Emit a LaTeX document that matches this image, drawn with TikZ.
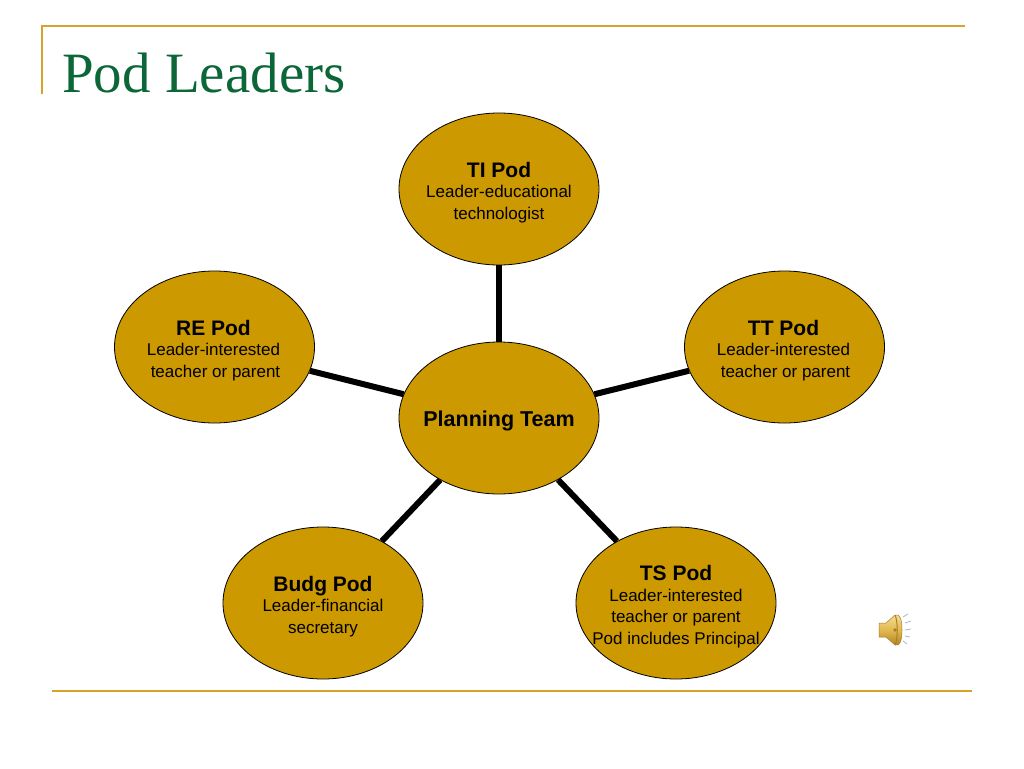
\documentclass[tikz,border=0pt]{standalone}
\usepackage{fontspec}
\usetikzlibrary{shapes.geometric}
\setmainfont{Liberation Sans}
\newfontfamily\titlefont{Liberation Serif}
\definecolor{podfill}{HTML}{CC9900}
\definecolor{rulegold}{HTML}{D6A32B}
\definecolor{titlegreen}{HTML}{0B6638}
\definecolor{spkgold}{HTML}{E2B84E}
\definecolor{spkdark}{HTML}{A97F22}
\definecolor{spklight}{HTML}{F5E2A0}
\definecolor{spkwave}{HTML}{A8AEB8}
\newcommand{\podhead}[1]{{\fontsize{21}{24}\selectfont\bfseries #1}}
\tikzset{
  pod/.style={ellipse,draw=black,line width=0.8pt,fill=podfill,minimum width=200pt,minimum height=152pt,inner sep=0pt},
  podtext/.style={align=center,inner sep=0pt,yshift=-3.5pt,font=\fontsize{17}{21.5}\selectfont,text=black},
  spoke/.style={draw=black,line width=6pt},
  rulegoldline/.style={draw=rulegold,line width=2.2pt},
  wave/.style={draw=spkwave,line width=0.7pt}
}
\begin{document}
\begin{tikzpicture}[x=1pt,y=-1pt]
\useasboundingbox (0,0) rectangle (1024,768);
\fill[white] (0,0) rectangle (1024,768);
\coordinate (ruleTL) at (42,26);
\coordinate (ruleTR) at (965,26);
\coordinate (ruleLB) at (42,94);
\coordinate (ruleBL) at (52,691);
\coordinate (ruleBR) at (972,691);
\draw[rulegoldline] (ruleTR) -- (ruleTL) -- (ruleLB);
\draw[rulegoldline] (ruleBL) -- (ruleBR);
\node[anchor=base west,inner sep=0pt,text=titlegreen,font=\titlefont\fontsize{57}{60}\selectfont] (title) at (62,92) {Pod Leaders};
\node[pod] (ti) at (499,189) {};
\node[pod] (tt) at (784.5,347) {};
\node[pod] (re) at (214.5,347) {};
\node[pod] (plan) at (499,418) {};
\node[pod] (budg) at (323,603) {};
\node[pod] (ts) at (676,603) {};
\node[podtext] (titext) at (ti) {\podhead{TI Pod}\\[-1pt]Leader-educational\\technologist};
\node[podtext,xshift=-1pt] (tttext) at (tt) {\podhead{TT Pod}\\[-1pt]Leader-interested\\\hspace{4pt}teacher or parent};
\node[podtext,xshift=-1pt] (retext) at (re) {\podhead{RE Pod}\\[-1pt]Leader-interested\\\hspace{4pt}teacher or parent};
\node[podtext,font=\fontsize{21.5}{24}\selectfont\bfseries,yshift=1pt] (plantext) at (plan) {Planning Team};
\node[podtext] (budgtext) at (budg) {\podhead{Budg Pod}\\[-1pt]Leader-financial\\secretary};
\node[podtext] (tstext) at (ts) {\podhead{TS Pod}\\[-1pt]Leader-interested\\teacher or parent\\Pod includes Principal};
\draw[spoke] (plan) -- (ti);
\draw[spoke] (plan) -- (tt);
\draw[spoke] (plan) -- (re);
\draw[spoke] (plan) -- (budg);
\draw[spoke] (plan) -- (ts);
% speaker icon
\path[draw=spkdark,line width=0.5pt,top color=spklight,bottom color=spkdark,middle color=spkgold] (879,623) -- (886,623) -- (895,615) .. controls (900,613) and (902,620) .. (902,630) .. controls (902,640) and (900,647) .. (895,645) -- (886,637) -- (879,637) -- cycle;
\draw[spkdark,line width=1pt] (895,615) .. controls (898,621) and (898,639) .. (895,645);
\fill[spkdark] (895,630) circle (1.8pt);
\draw[wave] (903,617) -- (908,614);
\draw[wave] (905,623) -- (911,621);
\draw[wave] (905,630) -- (911,629);
\draw[wave] (905,636) -- (910,637);
\draw[wave] (903,641) -- (907,644);
\end{tikzpicture}
\end{document}
